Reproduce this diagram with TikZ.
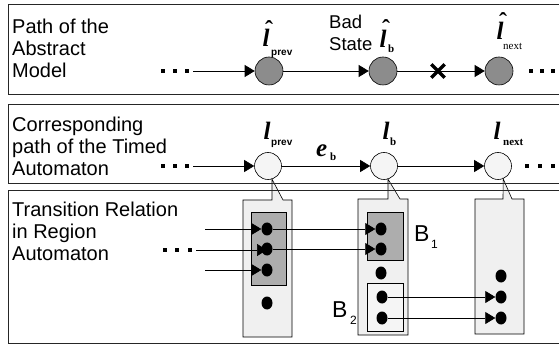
\documentclass[tikz,border=0pt]{standalone}
\usepackage{fontspec}
\setmainfont{Liberation Sans}
\newfontfamily\serif{Liberation Serif}
\usetikzlibrary{arrows.meta,shapes.geometric}
\newcommand{\lhat}[1]{\rlap{\kern2.5pt\raisebox{#1}[0pt][0pt]{\fontsize{24}{24}\selectfont\upshape\char"02C6}}l}
\begin{document}
\begin{tikzpicture}[x=1pt,y=-1pt,
  panel/.style={draw=black!85, line width=0.8pt},
  lbl/.style={font=\fontsize{20}{22}\selectfont, align=left, anchor=north west, inner sep=0pt},
  absstate/.style={circle, draw, line width=0.6pt, fill=black!45, minimum size=28pt, inner sep=0pt},
  tastate/.style={circle, draw, line width=0.6pt, fill=black!4, minimum size=27pt, inner sep=0pt},
  sq/.style={rectangle, fill=black, minimum size=4.5pt, inner sep=0pt},
  dot/.style={ellipse, fill=black, minimum width=11pt, minimum height=13pt, inner sep=0pt},
  arr/.style={-{Triangle[length=10pt,width=12pt]}, line width=0.6pt},
  callout/.style={draw, line width=0.6pt, fill=black!6},
  region/.style={draw, line width=0.5pt, fill=black!32},
  bigl/.style={inner sep=0pt, anchor=base, text height=16pt, text depth=0pt, font=\fontsize{25}{25}\selectfont\serif\bfseries\itshape},
  sub/.style={inner sep=0pt, anchor=base west},
]
\useasboundingbox (0,0) rectangle (559,347);
\fill[white] (0,0) rectangle (559,347);

% ---------- row 2 nodes first (callouts refer to them)
\node[tastate] (tp) at (268,166) {};
\node[tastate] (tb) at (384,166) {};
\node[tastate] (tn) at (498,166) {};

% ---------- callouts
\draw[callout] (243,200) -- (272,200) -- (tp.-73) -- (283,200) -- (292,200) -- (292,337) -- (243,337) -- cycle;
\draw[callout] (358,199) -- (388,199) -- (tb.-73) -- (400,199) -- (408,199) -- (408,335) -- (358,335) -- cycle;
\draw[callout] (475,199) -- (503,199) -- (tn.-68) -- (512,199) -- (524,199) -- (524,334) -- (475,334) -- cycle;

% ---------- panels
\draw[panel] (559,4) -- (8,4) -- (8,94) -- (559,94);
\draw[panel] (559,104) -- (8,104) -- (8,183) -- (559,183);
\draw[panel] (559,190) -- (8,190) -- (8,343) -- (559,343);

% ---------- panel texts
\node[lbl] (t1) at (12,19) {Path of the\\Abstract\\Model};
\node[lbl] (t2) at (12,117) {Corresponding\\path of the Timed\\Automaton};
\node[lbl] (t3) at (12,202) {Transition Relation\\in Region\\Automaton};

% ---------- row 1
\node[sq] (a1) at (163,71) {};
\node[sq] (a2) at (175,71) {};
\node[sq] (a3) at (187,71) {};
\node[absstate] (ap) at (269,71) {};
\node[absstate] (ab) at (383,71) {};
\node[absstate] (an) at (499,71) {};
\node[sq] (a4) at (531,71) {};
\node[sq] (a5) at (542,71) {};
\node[sq] (a6) at (553,71) {};
\node[inner sep=0pt, minimum size=13pt] (cross) at (438,71) {};
\draw[arr, shorten <=4pt] (a3) -- (ap);
\draw[arr] (ap) -- (ab);
\draw[arr] (ab) -- (an);
\draw[line width=3.2pt] (cross.north west) -- (cross.south east);
\draw[line width=3.2pt] (cross.north east) -- (cross.south west);

\node[bigl] (lpa) at (266,47) {\lhat{9.5pt}};
\node[sub, font=\fontsize{10}{10}\selectfont\bfseries] (lpas) at (271,56) {prev};
\node[lbl, font=\fontsize{18.5}{22}\selectfont] (bad) at (329,15) {Bad\\State};
\node[bigl] (lba) at (383,48) {\lhat{11pt}};
\node[sub, font=\fontsize{11}{11}\selectfont\serif\bfseries] (lbas) at (388,53) {b};
\node[bigl] (lna) at (500,40) {\lhat{10.5pt}};
\node[sub, font=\fontsize{11}{11}\selectfont\serif] (lnas) at (503,50) {next};

% ---------- row 2
\node[sq] (c1) at (163,166) {};
\node[sq] (c2) at (175,166) {};
\node[sq] (c3) at (187,166) {};
\node[sq] (c4) at (527,166) {};
\node[sq] (c5) at (540,166) {};
\node[sq] (c6) at (553,166) {};
\draw[arr, shorten <=4pt] (c3) -- (tp);
\draw[arr] (tp) -- (tb);
\draw[arr] (tb) -- (tn);

\node[bigl] (lp) at (267,140) {l};
\node[sub, font=\fontsize{10}{10}\selectfont\bfseries] (lps) at (271,146) {prev};
\node[bigl] (lb) at (386,140) {l};
\node[sub, font=\fontsize{11}{11}\selectfont\serif\bfseries] (lbs) at (390,146) {b};
\node[bigl] (ln) at (497,140) {l};
\node[sub, font=\fontsize{11}{11}\selectfont\serif\bfseries] (lns) at (503,146) {next};
\node[bigl, anchor=base west] (eb) at (316,157) {e};
\node[sub, font=\fontsize{11}{11}\selectfont\serif\bfseries] (ebs) at (330,161) {b};

% ---------- row 3 regions
\draw[region] (251,212) rectangle (286,285);
\draw[region] (367,212) rectangle (403,260);
\draw[line width=0.5pt, fill=black!4] (367,283) rectangle (403,331);

\node[dot] (pd1) at (267,229) {};
\node[dot] (pd2) at (267,249) {};
\node[dot] (pd3) at (267,270) {};
\node[dot] (pd4) at (267,303) {};
\node[dot] (bd1) at (381,229) {};
\node[dot] (bd2) at (381,249) {};
\node[dot] (bd3) at (381,273) {};
\node[dot] (bd4) at (382,297) {};
\node[dot] (bd5) at (382,318) {};
\node[dot] (nd1) at (501,276) {};
\node[dot] (nd2) at (501,297) {};
\node[dot] (nd3) at (501,318) {};

\node[sq] (e1) at (165,250) {};
\node[sq] (e2) at (177,250) {};
\node[sq] (e3) at (190,250) {};
\coordinate (s1) at (205,229);
\coordinate (s3) at (205,270);
\draw[arr] (s1) -- (pd1);
\draw[arr, shorten <=4pt] (e3) -- (pd2 |- e3);
\draw[arr] (s3) -- (pd3);
\draw[arr] (pd1) -- (bd1);
\draw[arr] (pd2) -- (bd2);
\draw[arr] (bd4) -- (nd2);
\draw[arr] (bd5) -- (nd3);

\node[sub, font=\fontsize{23}{23}\selectfont] (B1) at (414,242) {B};
\node[sub, font=\fontsize{12}{12}\selectfont] (B1s) at (431,249) {1};
\node[sub, font=\fontsize{23}{23}\selectfont] (B2) at (332,317) {B};
\node[sub, font=\fontsize{12}{12}\selectfont] (B2s) at (350,324) {2};
\end{tikzpicture}
\end{document}
